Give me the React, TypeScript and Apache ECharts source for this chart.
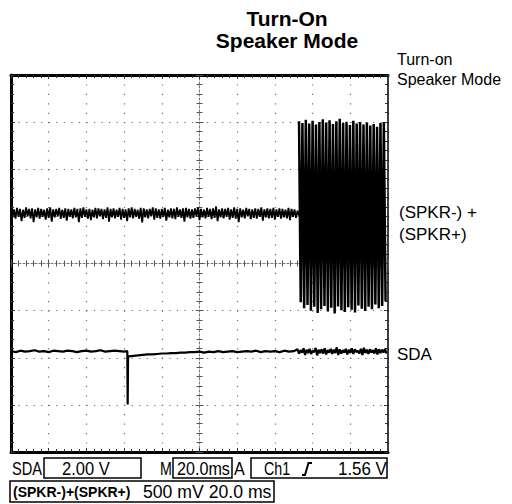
import React, { useEffect, useRef } from "react";
import * as echarts from "echarts";

// Time axis in ms (20 ms/div, 10 divisions), vertical axis in divisions (8 divisions)
const timeMin = -100;
const timeMax = 100;
const timeStep = 20;
const divMin = -4;
const divMax = 4;

// (SPKR-) + (SPKR+) noise before the burst: envelope high/low pairs every 1.6 ms from -100 ms (divisions)
const spkrNoiseStart = -100;
const spkrNoiseStep = 1.6;
const spkrNoiseHigh = [
  1.17, 1.15, 1.18, 1.16, 1.14, 1.19, 1.16, 1.17, 1.15, 1.18, 1.16, 1.14, 1.17, 1.19, 1.15, 1.16, 1.18, 1.14, 1.17, 1.16,
  1.15, 1.18, 1.16, 1.17, 1.19, 1.15, 1.16, 1.14, 1.18, 1.17, 1.16, 1.15, 1.19, 1.16, 1.17, 1.14, 1.18, 1.16, 1.15, 1.17,
  1.19, 1.16, 1.14, 1.18, 1.17, 1.15, 1.16, 1.19, 1.17, 1.15, 1.16, 1.18, 1.14, 1.17, 1.16, 1.19, 1.15, 1.17, 1.18, 1.16,
  1.15, 1.17, 1.19, 1.16, 1.14, 1.18, 1.16, 1.17, 1.21, 1.15, 1.17, 1.16, 1.18, 1.15, 1.19, 1.16, 1.17, 1.14, 1.18, 1.16,
  1.15, 1.17, 1.16, 1.19, 1.15, 1.17, 1.16, 1.18, 1.15, 1.17, 1.16, 1.14, 1.18, 1.16, 1.15, 1.12,
];
const spkrNoiseLow = [
  0.98, 0.95, 0.99, 0.9, 0.97, 1.0, 0.96, 0.88, 0.98, 0.95, 0.99, 0.93, 0.97, 0.89, 0.98, 1.0, 0.95, 0.97, 0.91, 0.99,
  0.96, 0.98, 0.88, 0.97, 0.99, 0.95, 0.92, 0.98, 0.96, 1.0, 0.94, 0.97, 0.89, 0.98, 0.96, 0.99, 0.93, 0.97, 0.9, 0.98,
  0.96, 0.99, 0.95, 0.87, 0.98, 0.96, 1.0, 0.93, 0.97, 0.95, 0.99, 0.91, 0.98, 0.96, 0.94, 0.99, 0.97, 0.89, 0.98, 0.95,
  0.97, 1.0, 0.92, 0.98, 0.96, 0.99, 0.94, 0.97, 0.9, 0.98, 0.96, 0.99, 0.93, 0.97, 0.95, 0.88, 0.98, 0.96, 1.0, 0.94,
  0.97, 0.95, 0.99, 0.91, 0.98, 0.96, 0.97, 0.93, 0.99, 0.95, 0.98, 0.96, 0.92, 0.99, 0.97, 1.02,
];

// Burst after turn-on: one peak and one trough per cycle
const burstStart = 52.8;
const burstPeriod = 1.8;
const burstHigh = [
  3.02, 2.98, 3.05, 2.97, 3.03, 2.95, 3.0, 3.06, 2.99, 3.04, 2.96, 3.02, 3.07, 2.98, 3.01, 2.94, 3.03, 2.97, 3.0, 2.95,
  2.99, 2.93, 2.96, 2.9, 2.98, 3.0,
];
const burstLow = [
  -0.82, -0.95, -0.88, -1.0, -0.92, -1.05, -0.97, -0.9, -1.02, -0.94, -1.06, -0.91, -0.99, -1.03, -0.93, -0.98, -1.04,
  -0.89, -0.96, -1.01, -0.92, -0.97, -0.87, -0.95, -0.9, -0.8,
];

// SDA trace up to 50 ms: samples every 2.5 ms from -100 ms (divisions)
const sdaStart = -100;
const sdaStep = 2.5;
const sdaValues = [
  -1.86, -1.88, -1.85, -1.87, -1.86, -1.84, -1.87, -1.86, -1.88, -1.85, -1.86, -1.87, -1.85, -1.86, -1.88, -1.86, -1.85,
  -1.87, -1.86, -1.84, -1.87, -1.86, -1.85, -1.86, -1.87,
  -1.97,
  -1.96, -1.95, -1.94, -1.93, -1.93, -1.92, -1.91, -1.91, -1.9, -1.9, -1.89, -1.89, -1.88,
  -1.88, -1.87, -1.89, -1.87, -1.88, -1.86, -1.88, -1.87, -1.86, -1.88, -1.87, -1.86, -1.87, -1.85, -1.88, -1.86, -1.87,
  -1.86, -1.88, -1.85, -1.87, -1.86,
];
// SDA glitch
const sdaSpikeTimes = [-38.3, -38.1, -37.9];
const sdaSpikeValues = [-1.86, -2.99, -1.97];
// SDA noise during the burst: envelope high/low pairs every 1.6 ms from 52 ms
const sdaNoiseStart = 52;
const sdaNoiseStep = 1.6;
const sdaNoiseHigh = [
  -1.82, -1.84, -1.8, -1.83, -1.81, -1.85, -1.79, -1.83, -1.82, -1.8, -1.84, -1.81, -1.83, -1.78, -1.82, -1.84, -1.81,
  -1.83, -1.8, -1.82, -1.85, -1.81, -1.79, -1.83, -1.82, -1.84, -1.8, -1.82, -1.83, -1.81,
];
const sdaNoiseLow = [
  -1.91, -1.89, -1.94, -1.9, -1.92, -1.88, -1.95, -1.9, -1.91, -1.93, -1.89, -1.92, -1.9, -1.94, -1.91, -1.89, -1.93,
  -1.9, -1.92, -1.88, -1.91, -1.94, -1.9, -1.92, -1.89, -1.91, -1.93, -1.9, -1.89, -1.91,
];

const titleLines = ["Turn-On", "Speaker Mode"];
const sideLabelTop = ["Turn-on", "Speaker Mode"];
const spkrLabel = ["(SPKR-) +", "(SPKR+)"];
const sdaLabel = "SDA";

const readoutSda = ["SDA", "2.00 V", "M", "20.0ms", "A", "Ch1", "1.56 V"];
const readoutSpkr = ["(SPKR-)+(SPKR+)", "500 mV 20.0 ms"];

function pairs(start: number, step: number, hi: number[], lo: number[]) {
  const d: number[][] = [];
  hi.forEach((h, i) => {
    d.push([start + i * step, h]);
    d.push([start + i * step + step / 2, lo[i]]);
  });
  return d;
}

function buildSda() {
  const d: number[][] = sdaValues.map((v, i) => [sdaStart + i * sdaStep, v]);
  sdaSpikeTimes.forEach((t, i) => d.push([t, sdaSpikeValues[i]]));
  d.sort((a, b) => a[0] - b[0]);
  return [...d, ...pairs(sdaNoiseStart, sdaNoiseStep, sdaNoiseHigh, sdaNoiseLow)];
}

const GRID = { left: 11, top: 75, width: 377, height: 377 };
const DOT = "#6a6a6a";

function xAxisBase(extra: any) {
  return {
    type: "value",
    min: timeMin,
    max: timeMax,
    interval: timeStep,
    axisLabel: { show: false },
    splitLine: { show: false },
    ...extra,
  };
}
function yAxisBase(extra: any) {
  return {
    type: "value",
    min: divMin,
    max: divMax,
    interval: 1,
    axisLabel: { show: false },
    splitLine: { show: false },
    ...extra,
  };
}

const borderTick = { show: true, inside: true, length: 4, lineStyle: { color: "#333", width: 1 } };
const borderMinor = { show: true, splitNumber: 5, length: 3, lineStyle: { color: "#333", width: 1 } };
const centerTick = { show: true, inside: true, length: 4, lineStyle: { color: "#555", width: 1 } };
const centerMinor = { show: true, splitNumber: 5, length: 3, lineStyle: { color: "#555", width: 1 } };

export default function App() {
  const ref = useRef<HTMLDivElement>(null);
  useEffect(() => {
    if (!ref.current) return;
    const chart = echarts.init(ref.current, undefined, { renderer: "svg" });
    const cond = '"Liberation Sans", Arial, sans-serif';
    const rowY = 469;
    const readText = (text: string, x: number, y: number, size: number, scale: number, weight = "normal") => ({
      type: "text",
      x,
      y,
      scaleX: scale,
      style: {
        text,
        font: `${weight} ${size}px ${cond}`,
        fill: "#000",
        textAlign: "left",
        textVerticalAlign: "middle",
      },
    });
    const plain = (text: string, x: number, y: number, font: string, align = "left") => ({
      type: "text",
      x,
      y,
      style: { text, font, fill: "#000", textAlign: align, textVerticalAlign: "middle" },
    });
    chart.setOption({
      animation: false,
      backgroundColor: "#fff",
      grid: { ...GRID, show: false },
      xAxis: [
        xAxisBase({
          position: "bottom",
          axisLine: { show: true, onZero: false, lineStyle: { color: "#000", width: 3 } },
          axisTick: borderTick,
          minorTick: borderMinor,
          splitLine: { show: true, lineStyle: { color: DOT, width: 1.2, type: [1.2, 8.22] } },
        }),
        xAxisBase({
          position: "top",
          axisLine: { show: true, onZero: false, lineStyle: { color: "#000", width: 3 } },
          axisTick: borderTick,
          minorTick: borderMinor,
        }),
        xAxisBase({
          position: "bottom",
          axisLine: { show: true, onZero: true, onZeroAxisIndex: 0, lineStyle: { color: "#777", width: 1, type: [2, 2] } },
          axisTick: centerTick,
          minorTick: centerMinor,
        }),
        xAxisBase({
          position: "top",
          axisLine: { show: false, onZero: true, onZeroAxisIndex: 0 },
          axisTick: centerTick,
          minorTick: centerMinor,
        }),
      ],
      yAxis: [
        yAxisBase({
          position: "left",
          axisLine: { show: true, onZero: false, lineStyle: { color: "#000", width: 3 } },
          axisTick: borderTick,
          minorTick: borderMinor,
          splitLine: { show: true, lineStyle: { color: DOT, width: 1.2, type: [1.2, 6.34] } },
        }),
        yAxisBase({
          position: "right",
          axisLine: { show: true, onZero: false, lineStyle: { color: "#000", width: 1.5 } },
          axisTick: borderTick,
          minorTick: borderMinor,
        }),
        yAxisBase({
          position: "left",
          axisLine: { show: true, onZero: true, onZeroAxisIndex: 0, lineStyle: { color: "#777", width: 1, type: [2, 2] } },
          axisTick: centerTick,
          minorTick: centerMinor,
        }),
        yAxisBase({
          position: "right",
          axisLine: { show: false, onZero: true, onZeroAxisIndex: 0 },
          axisTick: centerTick,
          minorTick: centerMinor,
        }),
      ],
      series: [
        {
          type: "line",
          name: "SPKR noise",
          data: pairs(spkrNoiseStart, spkrNoiseStep, spkrNoiseHigh, spkrNoiseLow),
          showSymbol: false,
          symbol: "none",
          lineStyle: { color: "#000", width: 1.8, join: "miter", miterLimit: 2 },
          silent: true,
          z: 5,
        },
        {
          type: "line",
          name: "SPKR burst",
          data: pairs(burstStart, burstPeriod, burstHigh, burstLow),
          showSymbol: false,
          symbol: "none",
          lineStyle: { color: "#000", width: 2.5, join: "miter", miterLimit: 2 },
          silent: true,
          z: 5,
        },
        {
          type: "line",
          name: "SDA",
          data: buildSda(),
          showSymbol: false,
          symbol: "none",
          lineStyle: { color: "#000", width: 2.2 },
          silent: true,
          z: 5,
        },
      ],
      graphic: [
        plain(titleLines[0], 287, 18.5, `bold 21px ${cond}`, "center"),
        plain(titleLines[1], 287, 40, `bold 21px ${cond}`, "center"),
        plain(sideLabelTop[0], 397, 59.5, `16px ${cond}`),
        plain(sideLabelTop[1], 397, 79.5, `16px ${cond}`),
        plain(spkrLabel[0], 399, 212.5, `17px ${cond}`),
        plain(spkrLabel[1], 399, 234.5, `17px ${cond}`),
        plain(sdaLabel, 397, 354, `17px ${cond}`),
        // readout row 1
        readText(readoutSda[0], 12, rowY, 19, 0.77),
        { type: "rect", shape: { x: 44, y: 458, width: 97, height: 20 }, style: { fill: "none", stroke: "#000", lineWidth: 1.5 } },
        readText(readoutSda[1], 62, rowY, 19, 0.87),
        readText(readoutSda[2], 160, rowY, 19, 0.75),
        { type: "rect", shape: { x: 173, y: 458, width: 59, height: 20 }, style: { fill: "none", stroke: "#000", lineWidth: 1.5 } },
        readText(readoutSda[3], 177, rowY, 19, 0.85),
        readText(readoutSda[4], 234, rowY, 19, 0.85),
        { type: "rect", shape: { x: 251, y: 458, width: 136, height: 20 }, style: { fill: "none", stroke: "#000", lineWidth: 1.5 } },
        readText(readoutSda[5], 264, rowY, 19, 0.75),
        {
          type: "polyline",
          shape: { points: [[302, 475], [305, 475], [308.5, 463], [312, 463]] },
          style: { fill: "none", stroke: "#000", lineWidth: 2 },
        },
        readText(readoutSda[6], 338, rowY, 19, 0.89),
        // readout row 2
        { type: "rect", shape: { x: 10, y: 481, width: 264, height: 21 }, style: { fill: "none", stroke: "#000", lineWidth: 1.5 } },
        readText(readoutSpkr[0], 13, 492, 14, 1.0, "bold"),
        readText(readoutSpkr[1], 143, 492, 18, 0.98),
      ],
    });
    return () => chart.dispose();
  }, []);
  return <div ref={ref} style={{ position: "fixed", left: 0, top: 0, width: 512, height: 504 }} />;
}
